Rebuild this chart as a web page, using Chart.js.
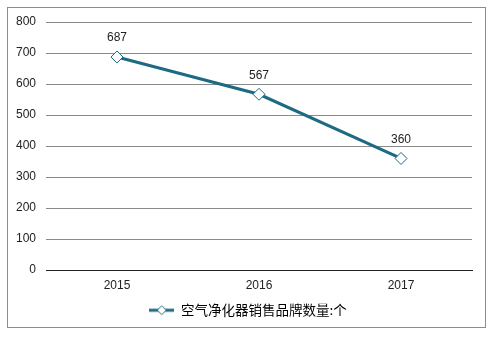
<!DOCTYPE html>
<html><head><meta charset="utf-8">
<script src="https://cdn.jsdelivr.net/npm/chart.js@4"></script>
<style>
html,body{margin:0;padding:0;background:#fff;width:494px;height:338px;overflow:hidden}
#frame{position:absolute;left:7px;top:7px;width:479px;height:321px;border:1px solid #8c8c8c;box-sizing:border-box}
#wrap{position:absolute;left:0;top:0;width:494px;height:338px}
</style></head><body>
<div id="frame"></div>
<div id="wrap"><canvas id="c" width="494" height="338"></canvas></div>
<script>
const categories = ['2015', '2016', '2017'];
const brandCounts = [687, 567, 360];
const seriesName = '空气净化器销售品牌数量:个';
const yTicks = [0, 100, 200, 300, 400, 500, 600, 700, 800];

const lineColor = '#1d6a82';
const fontFamily = 'Arial, "Liberation Sans", sans-serif';

// legend symbol: line with diamond
const sym = document.createElement('canvas');
sym.width = 25; sym.height = 12;
(function(){
  const g = sym.getContext('2d');
  g.strokeStyle = lineColor; g.lineWidth = 3;
  g.beginPath(); g.moveTo(0,6); g.lineTo(25,6); g.stroke();
  g.fillStyle = '#fff'; g.lineWidth = 1;
  g.beginPath(); g.moveTo(12.5,1.5); g.lineTo(17,6); g.lineTo(12.5,10.5); g.lineTo(8,6); g.closePath();
  g.fill(); g.stroke();
})();

const labelPlugin = {
  id: 'valueLabels',
  afterDatasetsDraw(chart) {
    const ctx = chart.ctx;
    const meta = chart.getDatasetMeta(0);
    ctx.save();
    ctx.font = '12px ' + fontFamily;
    ctx.fillStyle = '#222';
    ctx.textAlign = 'center';
    ctx.textBaseline = 'middle';
    meta.data.forEach((pt, i) => {
      ctx.fillText(String(brandCounts[i]), pt.x, pt.y - 19);
    });
    ctx.restore();
  }
};

new Chart(document.getElementById('c'), {
  type: 'line',
  data: {
    labels: categories,
    datasets: [{
      label: seriesName,
      data: brandCounts,
      yAxisID: 'y',
      borderColor: lineColor,
      borderWidth: 3,
      pointStyle: 'rectRot',
      pointRadius: 6,
      pointBackgroundColor: '#fff',
      pointBorderColor: lineColor,
      pointBorderWidth: 1,
      tension: 0
    }]
  },
  options: {
    responsive: false,
    animation: false,
    layout: { padding: { left: 8, right: 6, top: 22, bottom: 11 } },
    plugins: {
      tooltip: { enabled: false },
      legend: {
        position: 'bottom',
        labels: {
          usePointStyle: true,
          pointStyle: sym,
          pointStyleWidth: 25,
          color: '#111',
          font: { family: '"Noto Sans CJK SC", sans-serif', size: 13.5 },
          padding: 0,
          generateLabels(chart) {
            return [{ text: seriesName, pointStyle: sym, fillStyle: '#fff', strokeStyle: lineColor, lineWidth: 0, datasetIndex: 0 }];
          }
        }
      }
    },
    scales: {
      x: {
        offset: true,
        grid: { display: false, drawTicks: false },
        border: { display: true, color: '#222', width: 1 },
        ticks: { color: '#222', font: { family: fontFamily, size: 12 }, padding: 8 },
        afterFit(s) { s.height += 3; }
      },
      y: {
        min: 0, max: 800,
        afterBuildTicks(axis) { axis.ticks = yTicks.map(v => ({ value: v })); },
        grid: { color: '#8a8a8a', drawTicks: false, lineWidth: 1 },
        border: { display: false },
        ticks: { color: '#222', font: { family: fontFamily, size: 12 }, padding: 10 },
        afterFit(s) { s.width = 38; }
      },
      yR: {
        position: 'right',
        display: true,
        grid: { display: false, drawTicks: false },
        border: { display: false },
        ticks: { display: false },
        afterFit(s) { s.width = 16; }
      }
    }
  },
  plugins: [labelPlugin]
});
</script>
</body></html>
